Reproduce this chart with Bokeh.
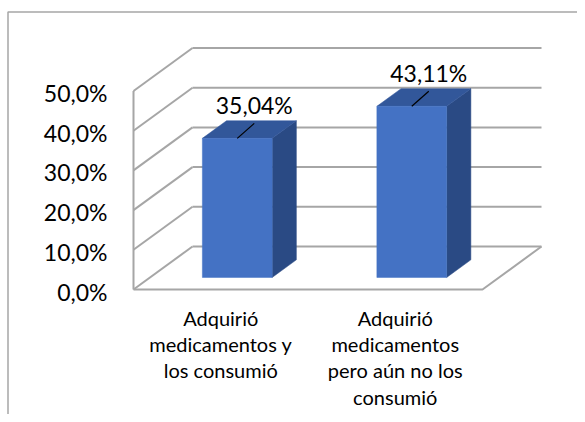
from bokeh.plotting import figure
from bokeh.models import Range1d
from bokeh.embed import file_html
from bokeh.resources import INLINE
from bokeh.core.properties import value

# ---- data ----
categories = ["Adquirió\nmedicamentos y\nlos consumió",
              "Adquirió\nmedicamentos\npero aún no los\nconsumió"]
values = [35.04, 43.11]
value_labels = ["35,04%", "43,11%"]
y_ticks = [0, 10, 20, 30, 40, 50]
y_tick_labels = ["0,0%", "10,0%", "20,0%", "30,0%", "40,0%", "50,0%"]

# ---- layout / style constants ----
W, H = 577, 414
X0, KX = 133.0, 174.5      # canvas px of x=0 and px per category unit
Y0, KY = 289.0, 3.97       # canvas px of 0 % and px per percent (front plane)
DX = 59.0 / KX             # full depth offset (x, data units)
DY = 43.0 / KY             # full depth offset (y, data units)
F0, F1 = 0.28, 0.69        # bar front/back depth fractions
BAR_W = 0.40
GRID = "#a6a6a6"
FRONT, TOP, SIDE = "#4472c4", "#32579a", "#2a4a84"
FONT = value("Lato")

p = figure(width=W, height=H, output_backend="svg", toolbar_location=None,
           x_axis_location=None, y_axis_location=None,
           x_range=Range1d(-X0 / KX, (W - X0) / KX),
           y_range=Range1d((Y0 - H) / KY, Y0 / KY),
           min_border=0)
p.outline_line_color = None
p.grid.visible = False
p.background_fill_color = "white"
p.border_fill_color = "white"

n = len(categories)
top_tick = y_ticks[-1]

# chart border (left and top visible)
bx = (7.5 - X0) / KX
by = (Y0 - 11.5) / KY
p.line([bx, bx, (W + 20 - X0) / KX], [(Y0 - H - 20) / KY, by, by],
       line_color=GRID, line_width=1.5)

# back wall gridlines
p.multi_line([[DX, n + DX] for _ in y_ticks], [[v + DY, v + DY] for v in y_ticks],
             line_color=GRID, line_width=2)
# side wall diagonals
p.multi_line([[0, DX] for _ in y_ticks], [[v, v + DY] for v in y_ticks],
             line_color=GRID, line_width=2)
# front-left vertical edge
p.line([0, 0], [0, top_tick], line_color=GRID, line_width=2)
# floor front edge and right diagonal
p.line([0, n, n + DX], [0, 0, DY], line_color=GRID, line_width=2)

# bars
centers = [i + 0.5 for i in range(n)]
L0 = [c - BAR_W / 2 + F0 * DX for c in centers]
R0 = [c + BAR_W / 2 + F0 * DX for c in centers]
L1 = [c - BAR_W / 2 + F1 * DX for c in centers]
R1 = [c + BAR_W / 2 + F1 * DX for c in centers]
T0 = [v + F0 * DY for v in values]
T1 = [v + F1 * DY for v in values]

p.patches([[r0, r0, r1, r1] for r0, r1 in zip(R0, R1)],
          [[F0 * DY, t0, t1, F1 * DY] for t0, t1 in zip(T0, T1)],
          fill_color=SIDE, line_color=SIDE, line_width=0.5)
p.patches([[l0, r0, r1, l1] for l0, r0, r1, l1 in zip(L0, R0, R1, L1)],
          [[t0, t0, t1, t1] for t0, t1 in zip(T0, T1)],
          fill_color=TOP, line_color=TOP, line_width=0.5)
p.quad(left=L0, right=R0, bottom=[F0 * DY] * n, top=T0,
       fill_color=FRONT, line_color=FRONT, line_width=0.5)

# leader lines and data labels
LEAD_X, LEAD_Y = 17.0, 15.0
LAB_X, LAB_Y = 17.0, 33.0
lx = [c + F0 * DX for c in centers]
p.segment(x0=lx, y0=T0, x1=[x + LEAD_X / KX for x in lx], y1=[t + LEAD_Y / KY for t in T0],
          line_color="black", line_width=1.2)
p.text(x=lx, y=T0, text=value_labels, x_offset=LAB_X, y_offset=-LAB_Y,
       text_align="center", text_baseline="middle", text_font=FONT,
       text_font_size="23px", text_color="black")

# y tick labels
p.text(x=[0] * len(y_ticks), y=y_ticks, text=y_tick_labels, x_offset=-26, y_offset=2,
       text_align="right", text_baseline="middle", text_font=FONT,
       text_font_size="23px", text_color="black")

# category labels
p.text(x=centers, y=[0] * n, text=categories, y_offset=16,
       text_align="center", text_baseline="top", text_font=FONT,
       text_font_size="20px", text_line_height=1.1, text_color="black")

open("out.html", "w").write(file_html(p, INLINE))
